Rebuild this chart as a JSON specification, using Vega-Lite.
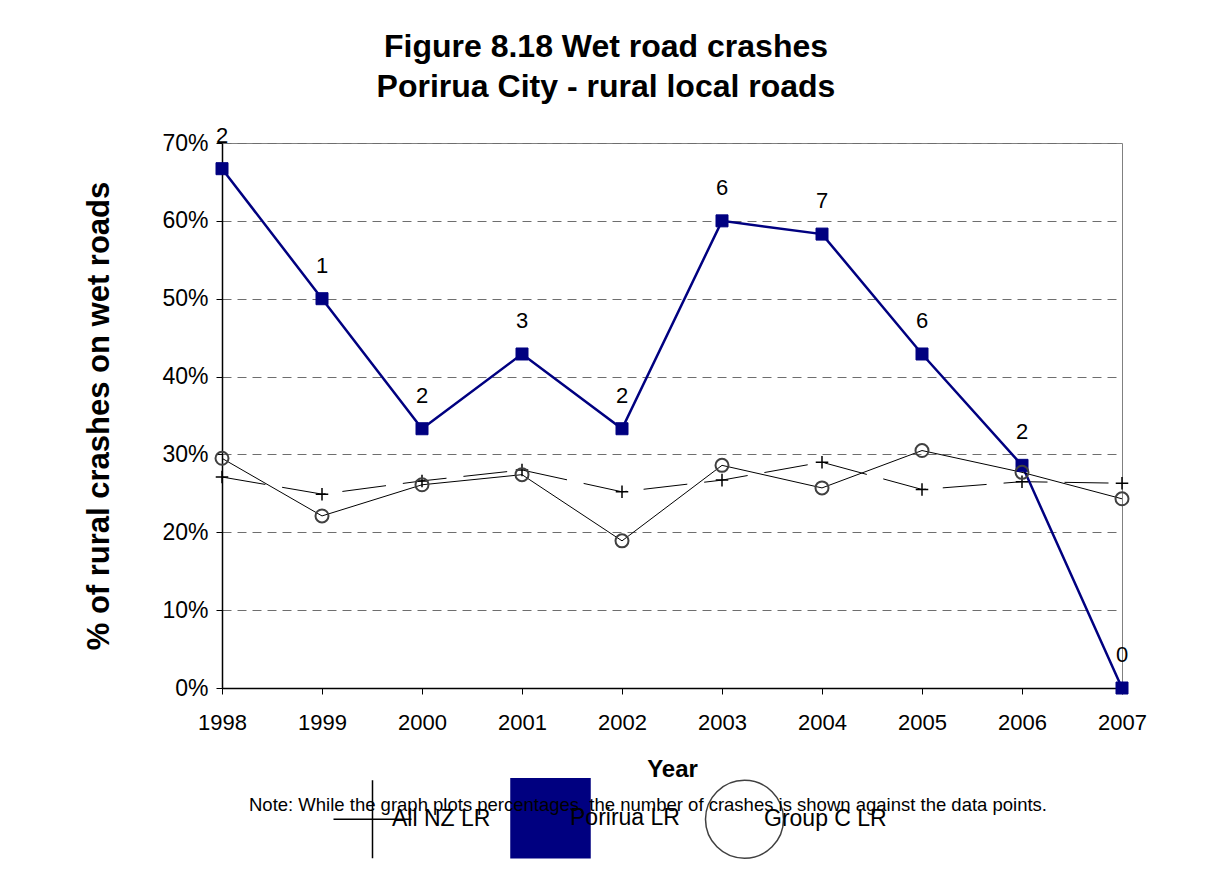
{
  "$schema": "https://vega.github.io/schema/vega-lite/v6.json",
  "width": 900,
  "height": 545,
  "autosize": "none",
  "padding": {"left": 222, "top": 143, "right": 84, "bottom": 206},
  "background": "white",
  "config": {
    "font": "Liberation Sans",
    "view": {"stroke": "#808080", "strokeWidth": 1},
    "axis": {"labelColor": "black", "titleColor": "black", "domainColor": "black", "tickColor": "black", "domainWidth": 1.5, "tickWidth": 1, "tickSize": 6},
    "legend": {"labelColor": "black", "titleColor": "black"}
  },
  "title": {
    "text": ["Figure 8.18 Wet road crashes", "Porirua City - rural local roads"],
    "fontSize": 32,
    "fontWeight": "bold",
    "lineHeight": 40,
    "color": "black",
    "anchor": "middle",
    "dx": -66,
    "offset": 21
  },
  "data": {
    "values": [
      {"year": 1998, "series": "All NZ LR", "pct": 0.271},
      {"year": 1999, "series": "All NZ LR", "pct": 0.249},
      {"year": 2000, "series": "All NZ LR", "pct": 0.266},
      {"year": 2001, "series": "All NZ LR", "pct": 0.280},
      {"year": 2002, "series": "All NZ LR", "pct": 0.252},
      {"year": 2003, "series": "All NZ LR", "pct": 0.267},
      {"year": 2004, "series": "All NZ LR", "pct": 0.290},
      {"year": 2005, "series": "All NZ LR", "pct": 0.255},
      {"year": 2006, "series": "All NZ LR", "pct": 0.265},
      {"year": 2007, "series": "All NZ LR", "pct": 0.263},
      {"year": 1998, "series": "Porirua  LR", "pct": 0.667, "count": 2},
      {"year": 1999, "series": "Porirua  LR", "pct": 0.500, "count": 1},
      {"year": 2000, "series": "Porirua  LR", "pct": 0.333, "count": 2},
      {"year": 2001, "series": "Porirua  LR", "pct": 0.429, "count": 3},
      {"year": 2002, "series": "Porirua  LR", "pct": 0.333, "count": 2},
      {"year": 2003, "series": "Porirua  LR", "pct": 0.600, "count": 6},
      {"year": 2004, "series": "Porirua  LR", "pct": 0.583, "count": 7},
      {"year": 2005, "series": "Porirua  LR", "pct": 0.429, "count": 6},
      {"year": 2006, "series": "Porirua  LR", "pct": 0.286, "count": 2},
      {"year": 2007, "series": "Porirua  LR", "pct": 0.000, "count": 0},
      {"year": 1998, "series": "Group C LR", "pct": 0.295},
      {"year": 1999, "series": "Group C LR", "pct": 0.221},
      {"year": 2000, "series": "Group C LR", "pct": 0.261},
      {"year": 2001, "series": "Group C LR", "pct": 0.274},
      {"year": 2002, "series": "Group C LR", "pct": 0.189},
      {"year": 2003, "series": "Group C LR", "pct": 0.286},
      {"year": 2004, "series": "Group C LR", "pct": 0.257},
      {"year": 2005, "series": "Group C LR", "pct": 0.305},
      {"year": 2006, "series": "Group C LR", "pct": 0.277},
      {"year": 2007, "series": "Group C LR", "pct": 0.243}
    ]
  },
  "encoding": {
    "x": {
      "field": "year",
      "type": "quantitative",
      "scale": {"domain": [1998, 2007], "nice": false, "zero": false},
      "axis": {
        "title": "Year",
        "values": [1998, 1999, 2000, 2001, 2002, 2003, 2004, 2005, 2006, 2007],
        "format": "d",
        "grid": false,
        "labelFontSize": 22,
        "labelPadding": 18,
        "labelFlush": false,
        "titleFontSize": 24,
        "titleFontWeight": "bold",
        "titlePadding": 24
      }
    },
    "y": {
      "field": "pct",
      "type": "quantitative",
      "scale": {"domain": [0, 0.7], "nice": false},
      "axis": {
        "title": "% of rural crashes on wet roads",
        "values": [0, 0.1, 0.2, 0.3, 0.4, 0.5, 0.6, 0.7],
        "format": ".0%",
        "grid": true,
        "gridDash": [9, 6],
        "gridColor": "#6e6e6e",
        "gridWidth": 1,
        "labelFontSize": 23,
        "labelPadding": 8,
        "labelFlush": false,
        "titleFontSize": 31,
        "titleFontWeight": "bold",
        "titlePadding": 46
      }
    }
  },
  "layer": [
    {
      "transform": [{"filter": "datum.series === 'All NZ LR'"}],
      "mark": {"type": "line", "color": "black", "strokeWidth": 1, "strokeDash": [44, 17]}
    },
    {
      "transform": [{"filter": "datum.series === 'Porirua  LR'"}],
      "mark": {"type": "line", "color": "#000080", "strokeWidth": 2.5}
    },
    {
      "transform": [{"filter": "datum.series === 'Group C LR'"}],
      "mark": {"type": "line", "color": "black", "strokeWidth": 1}
    },
    {
      "mark": {"type": "point", "opacity": 1},
      "encoding": {
        "shape": {
          "field": "series",
          "type": "nominal",
          "scale": {"domain": ["All NZ LR", "Porirua  LR", "Group C LR"], "range": ["M-1,0H1M0,-1V1", "square", "circle"]},
          "legend": {
            "title": "Note:  While the graph plots percentages, the number of crashes is shown against the data points.",
            "orient": "none",
            "legendX": 24,
            "legendY": 653,
            "direction": "horizontal",
            "titleFontSize": 18.5,
            "titleFontWeight": "normal",
            "titleLimit": 2000,
            "titleAnchor": "middle",
            "titlePadding": -8,
            "labelFontSize": 23,
            "labelOffset": 8,
            "labelLimit": 400,
            "columnPadding": 15,
            "symbolSize": 6084,
            "encoding": {
              "title": {
                "dx": {"value": 24}
              },
              "symbols": {
                "shape": {"value": {"expr": "datum.value === 'Porirua  LR' ? 'M-1,0H1M-0.15,-0.15H0.15V0.15H-0.15Z' : datum.value === 'Group C LR' ? 'M-1,0H-0.13M0.13,0H1M0.13,0L0.092,0.092L0,0.13L-0.092,0.092L-0.13,0L-0.092,-0.092L0,-0.13L0.092,-0.092Z' : 'M-1,0H0.17M0.64,0H0.97M0,-0.17V0.17'"}},
                "fill": {"value": {"expr": "datum.value === 'Porirua  LR' ? '#000080' : 'transparent'"}},
                "stroke": {"value": {"expr": "datum.value === 'Porirua  LR' ? '#000080' : datum.value === 'Group C LR' ? '#404040' : 'black'"}},
                "strokeWidth": {"value": {"expr": "datum.value === 'Porirua  LR' ? 2.5 : 1.5"}}
              }
            }
          }
        },
        "fill": {
          "field": "series",
          "type": "nominal",
          "scale": {"domain": ["Porirua  LR", "All NZ LR", "Group C LR"], "range": ["#000080", "transparent", "transparent"]},
          "legend": null
        },
        "stroke": {
          "field": "series",
          "type": "nominal",
          "scale": {"domain": ["Porirua  LR", "All NZ LR", "Group C LR"], "range": ["#000080", "black", "#404040"]},
          "legend": null
        },
        "strokeWidth": {
          "field": "series",
          "type": "nominal",
          "scale": {"domain": ["Porirua  LR", "All NZ LR", "Group C LR"], "range": [1, 2, 1.6]},
          "legend": null
        },
        "size": {
          "field": "series",
          "type": "nominal",
          "scale": {"domain": ["Porirua  LR", "All NZ LR", "Group C LR"], "range": [144, 169, 85]},
          "legend": null
        }
      }
    },
    {
      "transform": [{"filter": "datum.series === 'Porirua  LR'"}],
      "mark": {"type": "text", "fontSize": 22, "color": "black", "baseline": "alphabetic", "dy": -26},
      "encoding": {"text": {"field": "count", "type": "quantitative"}}
    }
  ]
}
